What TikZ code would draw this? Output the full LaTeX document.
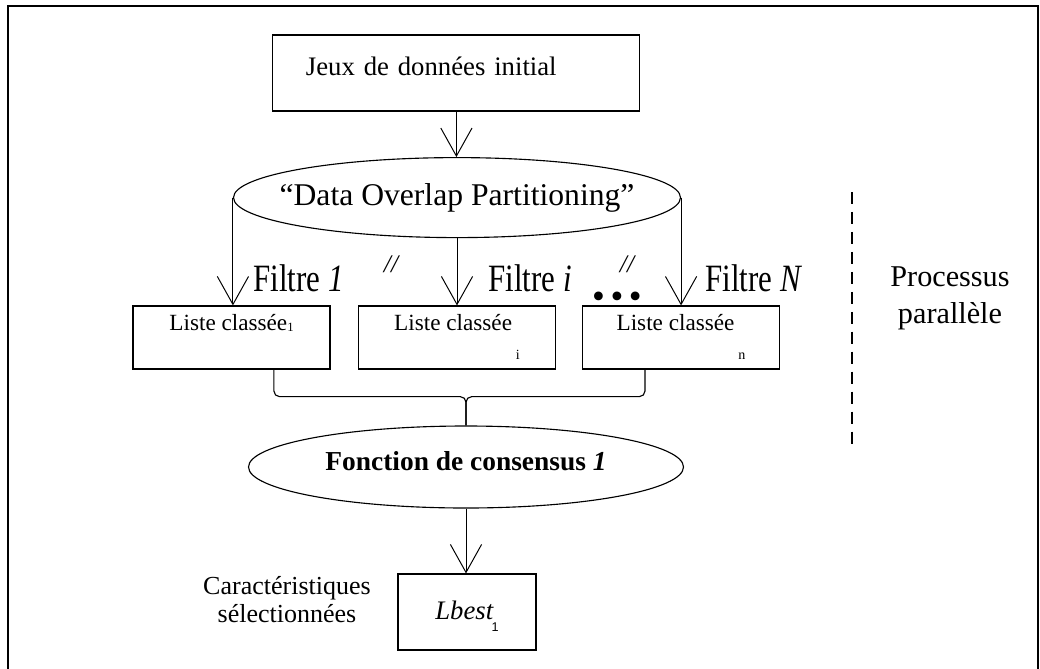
\documentclass[tikz,border=0pt]{standalone}
\usepackage{fontspec}
\setmainfont{Liberation Serif}
\setsansfont{Liberation Sans}
\usetikzlibrary{shapes.geometric,arrows.meta,positioning,calc}

\tikzset{
  boite/.style={draw, line width=0.8pt, rectangle, inner sep=0pt},
  bulle/.style={draw, line width=0.8pt, ellipse, inner sep=0pt},
  liste/.style={boite, minimum width=4.925cm, minimum height=1.575cm, text height=11pt, text depth=21.5pt, font=\fontsize{16.5}{19}\selectfont},
  filtre/.style={anchor=base west, inner sep=0pt, font=\fontsize{22}{24}\selectfont},
  marque/.style={inner sep=0pt, font=\itshape\fontsize{18}{18}\selectfont},
  fleche/.style={line width=0.7pt, -{Straight Barb[length=0.7cm,width=0.78cm]}},
  accolade/.style={line width=0.8pt, rounded corners=4pt},
}

\begin{document}
\begin{tikzpicture}
	\useasboundingbox (0,0) rectangle (26,-16.7);
	\draw[line width=1.9pt] (0.2,-0.15) rectangle (25.95,-17.2);

	% boites et ellipses
	\node[boite, minimum width=9.175cm, minimum height=1.9cm, inner xsep=0.825cm, text width=7.525cm, align=left, text height=13pt, text depth=10pt, font=\fontsize{19}{22}\selectfont] (jeux) at (11.41,-1.825) {Jeux de données initial};
	\node[bulle, minimum width=11.175cm, minimum height=2cm, inner xsep=-0.52cm, font=\fontsize{22.5}{25}\selectfont] (dop) at (11.425,-4.94) {“Data Overlap Partitioning”};
	\node[liste] (l1) at (5.7875,-8.4375) {Liste classée\raisebox{-1pt}{\fontsize{9}{9}\selectfont 1}};
	\node[liste] (l2) at (11.425,-8.4375) {Liste classée\,\raisebox{-21pt}{\fontsize{10}{10}\selectfont i}};
	\node[liste] (l3) at (17.025,-8.4375) {Liste classée\,\raisebox{-21pt}{\fontsize{10}{10}\selectfont n}};
	\node[bulle, minimum width=10.875cm, minimum height=2.05cm, text height=13.5pt, text depth=9pt, font=\bfseries\fontsize{19.5}{22}\selectfont] (cons) at (11.65,-11.675) {Fonction de consensus \textit{1}};
	\node[boite, minimum width=3.45cm, minimum height=1.9cm, text height=14pt, text depth=3pt, font=\fontsize{19}{22}\selectfont] (lbest) at (11.675,-15.3) {\textit{Lbest}\kern-1.5pt\raisebox{-8.5pt}{\fontsize{9}{9}\sffamily 1}};

	% textes
	\node[filtre] (f1) at (6.325,-7.275) {\scalebox{1}[1.25]{Filtre \textit{1}}};
	\node[filtre] (fi) at (12.2,-7.275) {\scalebox{1}[1.25]{Filtre \textit{i}}};
	\node[filtre] (fn) at (17.625,-7.275) {\scalebox{1}[1.25]{Filtre \textit{N}}};
	\node[marque] (m1) at (9.775,-6.6) {//};
	\node[marque] (m2) at (15.675,-6.6) {//};
	\node[anchor=base, inner sep=0pt, text height=8pt, text depth=0pt, font=\fontsize{26}{26}\selectfont] (pts) at (15.425,-7.72) {\textbullet\hspace{4pt}\textbullet\hspace{4pt}\textbullet};
	\node[align=center, font=\fontsize{21.5}{26.5}\selectfont] (proc) at (23.75,-7.45) {Processus\\parallèle};
	\node[align=center, font=\fontsize{18.5}{20}\selectfont] (carac) at (7.175,-15.0) {Caractéristiques\\sélectionnées};
	\draw[line width=1.6pt, dash pattern=on 8.5pt off 5.7pt] (21.3,-4.8) -- (21.3,-11.175);

	% fleches
	\draw[fleche] (jeux.south) -- (jeux.south |- dop.north);
	\draw[fleche] (dop.west) -- (dop.west |- l1.north);
	\draw[fleche] (dop.south) -- (dop.south |- l2.north);
	\draw[fleche] (dop.east) -- (dop.east |- l3.north);
	\draw[accolade] ([xshift=1.06cm]l1.south) |- ([yshift=0.72cm]cons.north) -- (cons.north);
	\draw[accolade] ([xshift=-0.9cm]l3.south) |- ([yshift=0.72cm]cons.north) -- (cons.north);
	\draw[fleche] (cons.south) -- (cons.south |- lbest.north);
\end{tikzpicture}
\end{document}
